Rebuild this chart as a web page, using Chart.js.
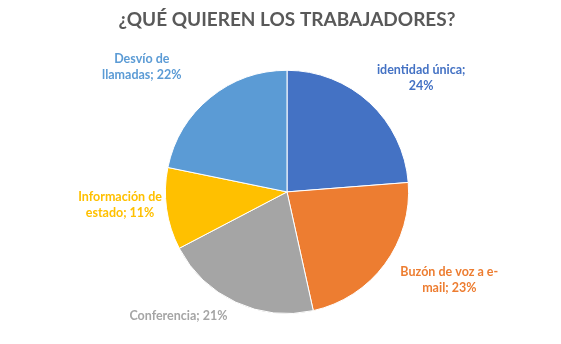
<!DOCTYPE html>
<html>
<head>
<meta charset="utf-8">
<script src="https://cdn.jsdelivr.net/npm/chart.js@4"></script>
<style>
  html, body { margin: 0; padding: 0; background: #fff; }
  #wrap { width: 561px; height: 344px; }
</style>
</head>
<body>
<div id="wrap"><canvas id="pie"></canvas></div>
<script>
// chart data
const categories = ["identidad única", "Buzón de voz a e-mail", "Conferencia", "Información de estado", "Desvío de llamadas"];
const percents = [24, 23, 21, 11, 22];
// how excel wrapped each data label
const labelLines = [
  ["identidad única;", "24%"],
  ["Buzón de voz a e-", "mail; 23%"],
  ["Conferencia; 21%"],
  ["Información de", "estado; 11%"],
  ["Desvío de", "llamadas; 22%"],
];
const colors = ["#4472C4", "#ED7D31", "#A5A5A5", "#FFC000", "#5B9BD5"];
// nudges from the plain radial spot, like excel's best fit
const labelNudge = [[19, 11], [26, -13], [-37, -30], [1, -11], [-38, 6]];

const outsideLabels = {
  id: "outsideLabels",
  afterDatasetsDraw(chart) {
    const ctx = chart.ctx;
    const arcs = chart.getDatasetMeta(0).data;
    ctx.save();
    ctx.font = "bold 12.5px Lato";
    ctx.textAlign = "center";
    ctx.textBaseline = "middle";
    arcs.forEach((arc, i) => {
      const mid = (arc.startAngle + arc.endAngle) / 2;
      const dist = arc.outerRadius + 48;
      const x = arc.x + Math.cos(mid) * dist + labelNudge[i][0];
      const y = arc.y + Math.sin(mid) * dist + labelNudge[i][1];
      const lines = labelLines[i];
      const lh = 16;
      ctx.fillStyle = colors[i];
      lines.forEach((t, j) => {
        ctx.fillText(t, x, y + (j - (lines.length - 1) / 2) * lh);
      });
    });
    ctx.restore();
  },
};

new Chart(document.getElementById("pie"), {
  type: "pie",
  data: {
    labels: categories,
    datasets: [{
      data: percents,
      backgroundColor: colors,
      borderColor: "#ffffff",
      borderWidth: 1,
    }],
  },
  options: {
    responsive: true,
    maintainAspectRatio: false,
    animation: false,
    layout: { padding: { top: 0, bottom: 30, left: 40, right: 27 } },
    plugins: {
      legend: { display: false },
      tooltip: { enabled: false },
      title: {
        display: true,
        text: "¿QUÉ QUIEREN LOS TRABAJADORES?",
        color: "#595959",
        font: { family: "Lato", size: 19, weight: "bold", lineHeight: 1.2 },
        padding: { top: 8, bottom: 39 },
      },
    },
  },
  plugins: [outsideLabels],
});
</script>
</body>
</html>
